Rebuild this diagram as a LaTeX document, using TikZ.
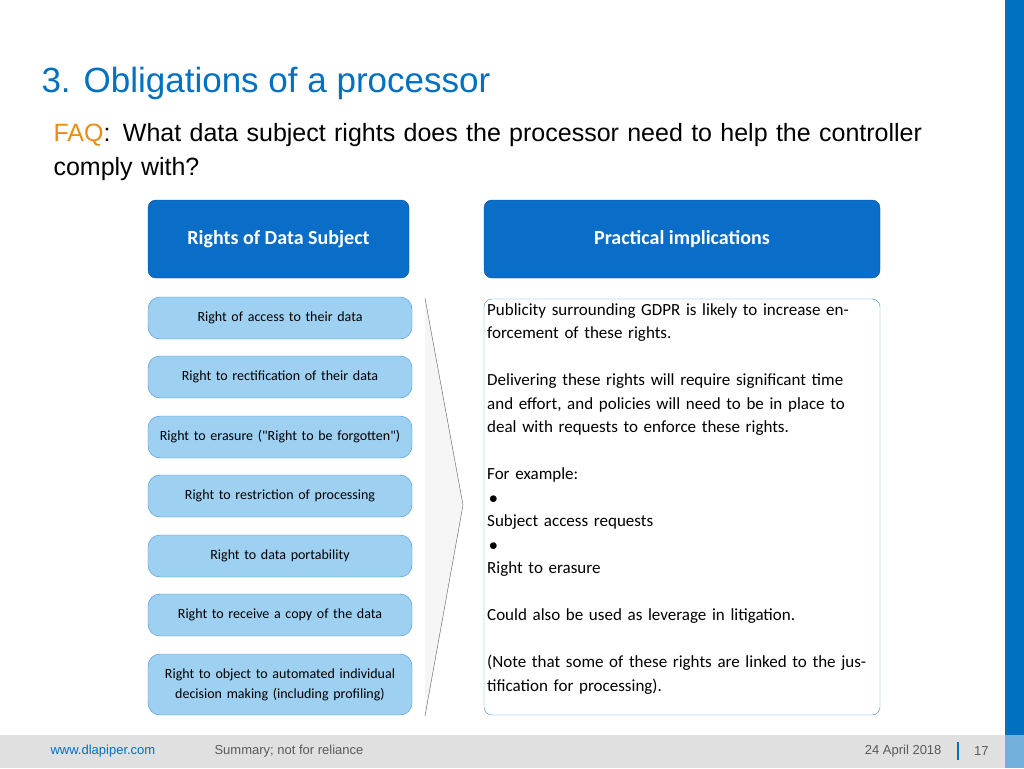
\documentclass[tikz,border=0pt]{standalone}
\usepackage{fontspec}
\setmainfont{Liberation Sans}
\newfontfamily\calibri{Carlito}
\usetikzlibrary{positioning}
\definecolor{dlblue}{RGB}{0,112,192}
\definecolor{headblue}{RGB}{10,110,200}
\definecolor{itemfill}{RGB}{158,208,242}
\definecolor{itemdraw}{RGB}{60,145,215}
\definecolor{footgrey}{RGB}{224,224,224}
\definecolor{greytext}{RGB}{90,90,90}
\definecolor{faqorange}{RGB}{232,140,20}
\tikzset{
  header/.style={rectangle, rounded corners=8pt, draw=headblue!70!black, fill=headblue, text=white,
    minimum height=78pt, font=\calibri\fontsize{20}{24}\selectfont\bfseries},
  rightitem/.style={rectangle, rounded corners=12pt, draw=itemdraw, fill=itemfill, minimum width=264pt,
    minimum height=42pt, text width=250pt, align=center, font=\calibri\fontsize{14}{20}\selectfont},
}
\begin{document}
\begin{tikzpicture}[x=1pt,y=-1pt]
\useasboundingbox (0,0) rectangle (1024,768);
% side strip and footer
\fill[dlblue] (1005,0) rectangle (1024,735);
\fill[dlblue!55] (1005,735) rectangle (1024,768);
\fill[footgrey] (0,735) rectangle (1005,768);
\node (web) [anchor=west, font=\fontsize{13}{15}\selectfont, text=dlblue] at (47,751) {www.dlapiper.com};
\node (note) [anchor=west, font=\fontsize{13}{15}\selectfont, text=greytext] at (211,751) {Summary; not for reliance};
\node (page) [anchor=east, font=\fontsize{13}{15}\selectfont, text=greytext] at (992,751) {17};
\node (date) [anchor=east, font=\fontsize{13}{15}\selectfont, text=greytext] at (945,751) {24 April 2018};
\draw[dlblue, line width=1.5pt] (958,742) -- (958,760);
% title
\node (title) [anchor=west, font=\fontsize{35}{40}\selectfont, text=dlblue] at (38,83) {3. Obligations of a processor};
\node (faq) [anchor=north west, align=left, text width=900pt, font=\fontsize{25}{34}\selectfont] at (50,120)
  {\textcolor{faqorange}{FAQ}:\, What data subject rights does the processor need to help the controller comply with?};
% headers
\node (rights) [header, minimum width=261pt] at (278.5,239) {Rights of Data Subject};
\node (practical) [header, minimum width=396pt] at (682,239) {Practical implications};
% left items
\node (access) [rightitem] at (280,318) {Right of access to their data};
\node (rectify) [rightitem] at (280,377) {Right to rectification of their data};
\node (erase) [rightitem] at (280,437) {Right to erasure ("Right to be forgotten")};
\node (restrict) [rightitem] at (280,496) {Right to restriction of processing};
\node (port) [rightitem] at (280,556) {Right to data portability};
\node (copy) [rightitem] at (280,615) {Right to receive a copy of the data};
\node (object) [rightitem, minimum height=61pt] at (280,684.5) {Right to object to automated individual decision making (including profiling)};
% chevron
\coordinate (chtop) at (425,298);
\coordinate (chtip) at (463,505);
\coordinate (chbot) at (425,716);
\fill[gray!8] (chtop) -- (chtip) -- (chbot) -- cycle;
\draw[gray!70!black] (chtop) -- (chtip) -- (chbot);
% implications
\node (impl) [rectangle, rounded corners=8pt, draw=itemdraw, fill=white, minimum width=396pt, minimum height=416pt] at (682,507) {};
\node (impltext) [anchor=north west, inner sep=0pt, text width=385pt, align=left,
  font=\calibri\fontsize{17}{23.5}\selectfont] at (487,303) {%
Publicity surrounding GDPR is likely to increase enforcement of these rights.\\[23.5pt]
Delivering these rights will require significant time and effort, and policies will need to be in place to deal with requests to enforce these rights.\\[23.5pt]
For example:\\
\hbox to 24pt{\hspace{2pt}$\bullet$\hfill}Subject access requests\\
\hbox to 24pt{\hspace{2pt}$\bullet$\hfill}Right to erasure\\[23.5pt]
Could also be used as leverage in litigation.\\[23.5pt]
(Note that some of these rights are linked to the justification for processing).};
\end{tikzpicture}
\end{document}
